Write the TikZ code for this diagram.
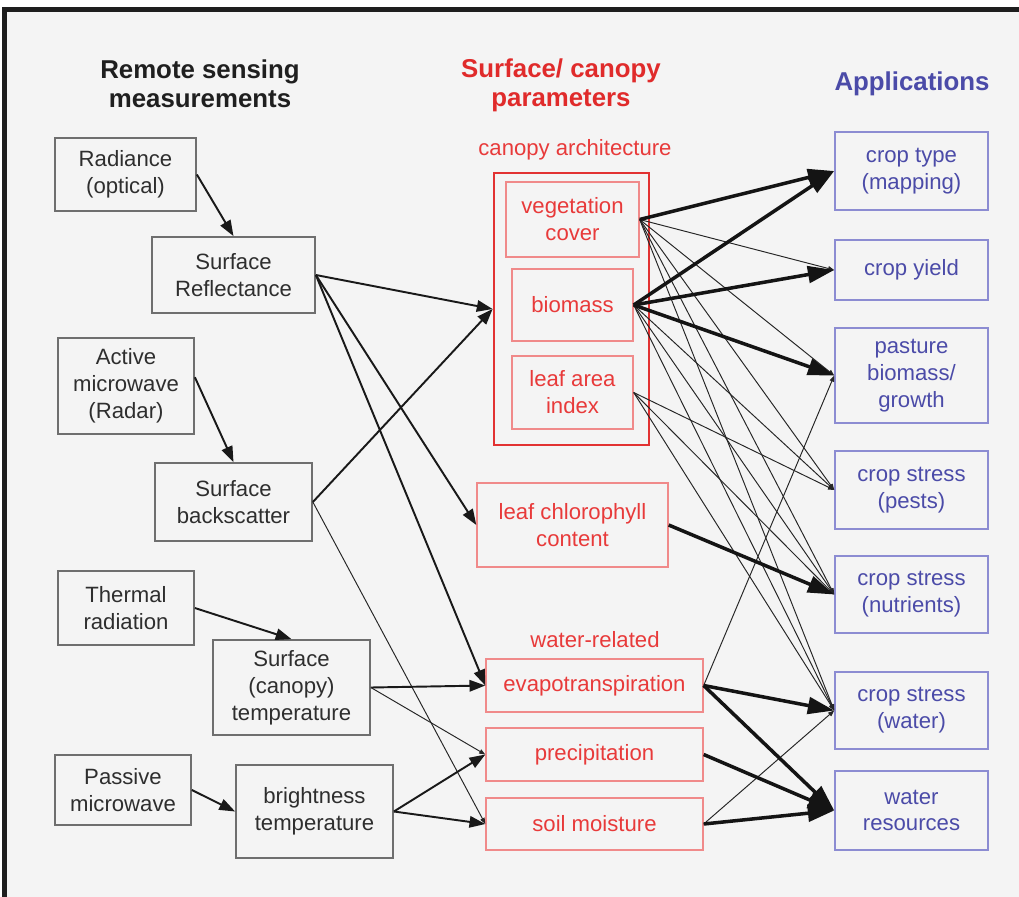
\documentclass[tikz,border=0pt]{standalone}
\usepackage{fontspec}
\setmainfont{Liberation Sans}
\usetikzlibrary{arrows.meta}
\definecolor{bg}{HTML}{F4F4F4}
\definecolor{framec}{HTML}{1E1E1E}
\definecolor{gborder}{HTML}{6E6E6E}
\definecolor{gtext}{HTML}{2E2E2E}
\definecolor{rtitle}{HTML}{E02B2B}
\definecolor{rtext}{HTML}{E83A3A}
\definecolor{rborder}{HTML}{F08A8A}
\definecolor{rstrong}{HTML}{E23232}
\definecolor{btext}{HTML}{4B4BA8}
\definecolor{bborder}{HTML}{8C8CD2}
\newcommand\boxfont{\fontsize{12.6}{15.3}\selectfont}
\newcommand\titlefont{\fontsize{14.7}{16.8}\selectfont\bfseries}
\begin{document}
\begin{tikzpicture}[x=0.02cm,y=-0.02cm,
  base/.style={inner sep=0pt, align=center, font=\boxfont},
  gbox/.style={base, draw=gborder, line width=1pt, text=gtext},
  rbox/.style={base, draw=rborder, line width=0.8pt, text=rtext},
  bbox/.style={base, draw=bborder, line width=0.9pt, text=btext},
  med/.style={draw=black!90, line width=1.1pt, -{Triangle[length=9pt,width=6.5pt]}},
  thinc/.style={draw=black!85, line width=0.55pt, -{Triangle[length=3.5pt,width=2.6pt]}},
  thickc/.style={draw=black!92, line width=2pt, -{Triangle[length=15pt,width=9.5pt]}}]
\useasboundingbox (0,0) rectangle (1019,897);
\fill[white] (0,0) rectangle (1019,897);
\fill[framec] (2,7) rectangle (1019,897);
\fill[bg] (6.5,12.3) rectangle (1019,897);

% titles
\node[font=\titlefont, text=black!88, align=center] (t1) at (200,84) {Remote sensing\\measurements};
\node[font=\titlefont, text=rtitle, align=center] (t2) at (561,85.5) {Surface/ canopy\\parameters};
\node[font=\titlefont, text=btext, align=center] (t3) at (912,84) {Applications};
\node[font=\boxfont, text=rtext] (l1) at (575,150) {canopy architecture};
\node[font=\boxfont, text=rtext] (l2) at (595,640) {water-related};

% left column
\node[gbox, minimum width=2.82cm, minimum height=1.46cm] (rad) at (125.5,174.5) {Radiance\\(optical)};
\node[gbox, minimum width=3.26cm, minimum height=1.52cm] (refl) at (233.5,275) {Surface\\Reflectance};
\node[gbox, minimum width=2.72cm, minimum height=1.92cm] (act) at (126,386) {Active\\microwave\\(Radar)};
\node[gbox, minimum width=3.14cm, minimum height=1.56cm] (back) at (233.5,502) {Surface\\backscatter};
\node[gbox, minimum width=2.72cm, minimum height=1.48cm] (therm) at (126,608) {Thermal\\radiation};
\node[gbox, minimum width=3.14cm, minimum height=1.90cm] (sct) at (291.5,687.5) {Surface\\(canopy)\\temperature};
\node[gbox, minimum width=2.72cm, minimum height=1.40cm] (pass) at (123,790) {Passive\\microwave};
\node[gbox, minimum width=3.14cm, minimum height=1.86cm] (bt) at (314.5,811.5) {brightness\\temperature};

% middle column
\node[draw=rstrong, line width=1.6pt, minimum width=3.10cm, minimum height=5.44cm, inner sep=0pt] (outer) at (571.5,309) {};
\node[rbox, minimum width=2.66cm, minimum height=1.50cm] (vc) at (572.5,219.5) {vegetation\\cover};
\node[rbox, minimum width=2.42cm, minimum height=1.44cm] (bm) at (572.5,305) {biomass};
\node[rbox, minimum width=2.42cm, minimum height=1.46cm] (lai) at (572.5,392.5) {leaf area\\index};
\node[rbox, minimum width=3.82cm, minimum height=1.68cm] (lcc) at (572.5,525) {leaf chlorophyll\\content};
\node[rbox, minimum width=4.34cm, minimum height=1.06cm] (et) at (594.5,685.5) {evapotranspiration};
\node[rbox, minimum width=4.34cm, minimum height=1.06cm] (pr) at (594.5,754.5) {precipitation};
\node[rbox, minimum width=4.34cm, minimum height=1.04cm] (sm) at (594.5,824) {soil moisture};

% right column
\node[bbox, minimum width=3.06cm, minimum height=1.56cm] (ct) at (911.5,171) {crop type\\(mapping)};
\node[bbox, minimum width=3.06cm, minimum height=1.20cm] (cy) at (911.5,270) {crop yield};
\node[bbox, minimum width=3.06cm, minimum height=1.90cm] (pa) at (911.5,375.5) {pasture\\biomass/\\growth};
\node[bbox, minimum width=3.06cm, minimum height=1.56cm] (pe) at (911.5,490) {crop stress\\(pests)};
\node[bbox, minimum width=3.06cm, minimum height=1.54cm] (nu) at (911.5,594.5) {crop stress\\(nutrients)};
\node[bbox, minimum width=3.06cm, minimum height=1.54cm] (wa) at (911.5,710.5) {crop stress\\(water)};
\node[bbox, minimum width=3.06cm, minimum height=1.58cm] (wr) at (911.5,810.5) {water\\resources};

% left connectors
\draw[med] (rad.east) -- (refl.north);
\draw[med] ([yshift=5pt]act.east) -- (back.north);
\draw[med] (therm.east) -- (sct.north);
\draw[med] (pass.east) -- (bt.west);
\draw[med] (refl.east) -- (outer.west);
\draw[med] (refl.east) -- (lcc.west);
\draw[med] (refl.east) -- (et.west);
\draw[med] (back.east) -- (outer.west);
\draw[thinc] (back.east) -- (sm.west);
\draw[med] (sct.east) -- (et.west);
\draw[thinc] (sct.east) -- (pr.west);
\draw[med] (bt.east) -- (pr.west);
\draw[med] (bt.east) -- (sm.west);

% thin right connectors
\draw[thinc] (vc.east) -- (cy.west);
\draw[thinc] (vc.east) -- (pa.west);
\draw[thinc] (vc.east) -- (pe.west);
\draw[thinc] (vc.east) -- (nu.west);
\draw[thinc] (vc.east) -- (wa.west);
\draw[thinc] (bm.east) -- (pe.west);
\draw[thinc] (bm.east) -- (nu.west);
\draw[thinc] (bm.east) -- (wa.west);
\draw[thinc] (lai.east) -- (pe.west);
\draw[thinc] (lai.east) -- (nu.west);
\draw[thinc] (lai.east) -- (wa.west);
\draw[thinc] (et.east) -- (pa.west);
\draw[thinc] (sm.east) -- (wa.west);

% thick right connectors
\draw[thickc] (vc.east) -- (ct.west);
\draw[thickc] (bm.east) -- (ct.west);
\draw[thickc] (bm.east) -- (cy.west);
\draw[thickc] (bm.east) -- (pa.west);
\draw[thickc] (lcc.east) -- (nu.west);
\draw[thickc] (et.east) -- (wa.west);
\draw[thickc] (et.east) -- (wr.west);
\draw[thickc] (pr.east) -- (wr.west);
\draw[thickc] (sm.east) -- (wr.west);
\end{tikzpicture}
\end{document}
